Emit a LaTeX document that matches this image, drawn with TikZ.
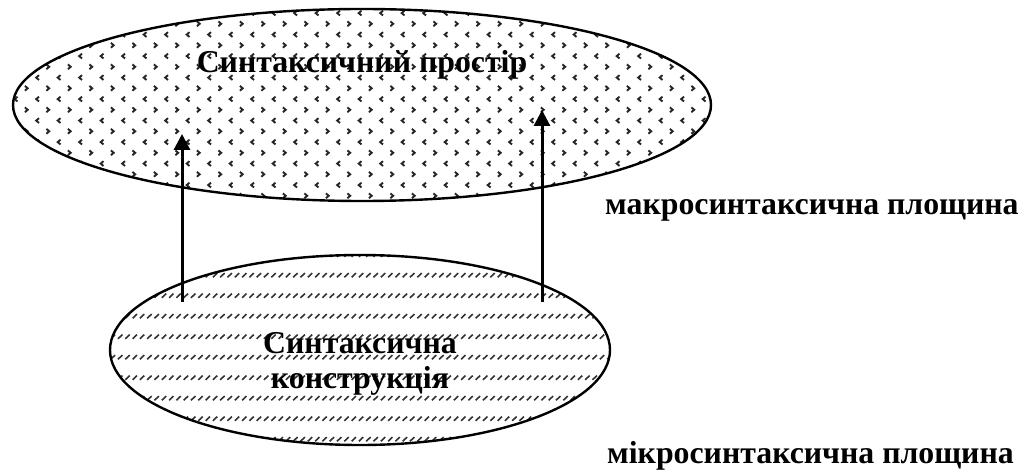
\documentclass[tikz,border=0pt]{standalone}
\usepackage{fontspec}
\setmainfont{Liberation Serif}
\usetikzlibrary{shapes.geometric,arrows.meta,patterns}
\pgfdeclarepatternformonly{chevrons}{\pgfpoint{-0.5pt}{-0.5pt}}{\pgfpoint{22pt}{22pt}}{\pgfpoint{21.5pt}{21.5pt}}{%
  \pgfsetlinewidth{1.9pt}%
  \pgfpathmoveto{\pgfpoint{3.4pt}{18.6pt}}%
  \pgfpathlineto{\pgfpoint{6.2pt}{16.2pt}}%
  \pgfpathlineto{\pgfpoint{3.4pt}{13.8pt}}%
  \pgfpathmoveto{\pgfpoint{17.5pt}{7.8pt}}%
  \pgfpathlineto{\pgfpoint{14.7pt}{5.4pt}}%
  \pgfpathlineto{\pgfpoint{17.5pt}{3pt}}%
  \pgfusepath{stroke}}
\pgfdeclarepatternformonly{slashes}{\pgfpoint{-0.5pt}{-0.5pt}}{\pgfpoint{7.8pt}{21pt}}{\pgfpoint{7.3pt}{20.5pt}}{%
  \pgfsetlinewidth{1.6pt}%
  \pgfpathmoveto{\pgfpoint{1.2pt}{8.2pt}}%
  \pgfpathlineto{\pgfpoint{5.6pt}{12.4pt}}%
  \pgfusepath{stroke}}
\tikzset{
  plane/.style={ellipse, draw=black, line width=2.4pt, inner sep=0pt, outer sep=0pt},
  lbl/.style={font=\fontsize{31.8}{35}\selectfont\bfseries, inner sep=0pt, align=center},
  uparrow/.style={line width=3pt, -{Triangle[width=16pt,length=16pt]}}
}
\begin{document}
\begin{tikzpicture}[x=1pt,y=-1pt]
\useasboundingbox (0,0) rectangle (1025,470);
\node[plane, minimum width=698pt, minimum height=192pt,
      pattern=chevrons, pattern color=black!85] (space) at (362,105) {};
\node[plane, minimum width=500pt, minimum height=190pt,
      pattern=slashes, pattern color=black!80] (constr) at (360,350) {};
\node[lbl, anchor=base] (title) at (362,73) {Синтаксичний простір};
\node[lbl, anchor=center] (ctext) at (360,364) {Синтаксична\\конструкція};
\node[lbl, anchor=base west] (macro) at (605,215) {макросинтаксична площина};
\node[lbl, anchor=base west] (micro) at (607,463) {мікросинтаксична площина};
\coordinate (l1) at (182,302);
\coordinate (l2) at (182,134);
\coordinate (r1) at (542,302);
\coordinate (r2) at (542,110);
\draw[uparrow] (l1) -- (l2);
\draw[uparrow] (r1) -- (r2);
\end{tikzpicture}
\end{document}
